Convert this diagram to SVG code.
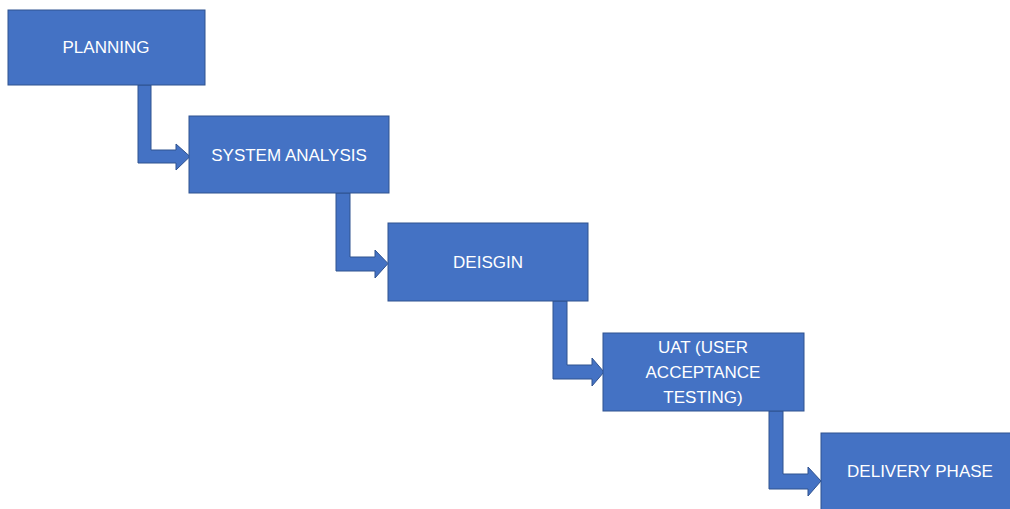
<svg xmlns="http://www.w3.org/2000/svg" width="1010" height="509" viewBox="0 0 1010 509">
<style>
.box{fill:#4472C4;stroke:#2F528F;stroke-width:1}
.arr{fill:#4472C4;stroke:#2F528F;stroke-width:1;stroke-linejoin:miter}
.lbl{fill:#FFFFFF;font-family:"Liberation Sans",Arial,sans-serif;font-size:17px;text-anchor:middle}
</style>
<rect width="1010" height="509" fill="#FFFFFF"/>
<g id="connectors">
<path class="arr" d="M138,85 L151,85 L151,150 L176,150 L176,144 L190,156.5 L176,170 L176,163 L138,163 Z"/>
<path class="arr" d="M336,193 L350,193 L350,257 L375,257 L375,250 L388,263.5 L375,278 L375,271 L336,271 Z"/>
<path class="arr" d="M553,301 L567,301 L567,365 L592,365 L592,358 L604,372 L592,386 L592,379 L553,379 Z"/>
<path class="arr" d="M769,411 L783,411 L783,474 L808,474 L808,467 L821,481 L808,496 L808,489 L769,489 Z"/>
</g>
<g id="planning">
<rect class="box" x="8" y="10" width="197" height="75"/>
<text class="lbl" x="106" y="53">PLANNING</text>
</g>
<g id="system-analysis">
<rect class="box" x="189" y="116" width="200" height="77"/>
<text class="lbl" x="289" y="161">SYSTEM ANALYSIS</text>
</g>
<g id="design">
<rect class="box" x="388" y="223" width="200" height="78"/>
<text class="lbl" x="488" y="268">DEISGIN</text>
</g>
<g id="uat">
<rect class="box" x="603" y="333" width="201" height="78"/>
<text class="lbl" x="703" y="353">UAT (USER</text>
<text class="lbl" x="703" y="378">ACCEPTANCE</text>
<text class="lbl" x="703" y="403">TESTING)</text>
</g>
<g id="delivery">
<rect class="box" x="821" y="433" width="195" height="80"/>
<text class="lbl" x="920" y="477">DELIVERY PHASE</text>
</g>
</svg>
